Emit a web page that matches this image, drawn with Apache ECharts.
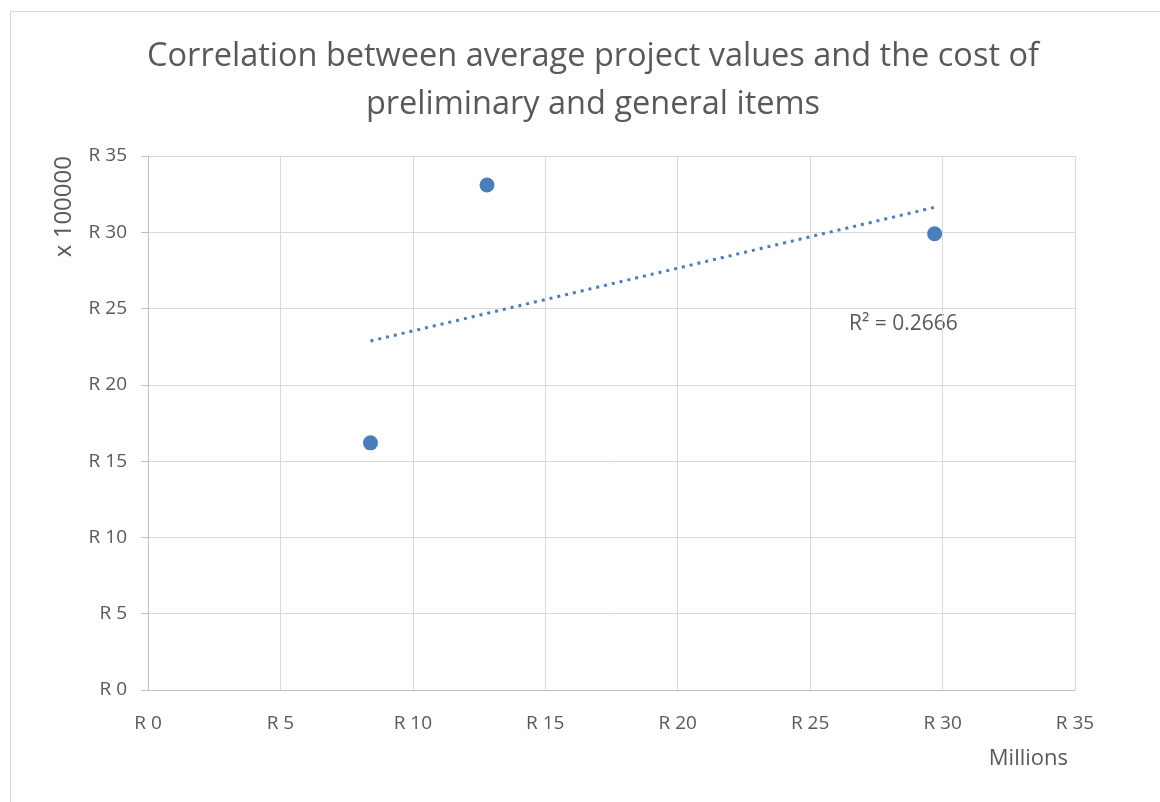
<!DOCTYPE html>
<html>
<head>
<meta charset="utf-8">
<script src="https://cdn.jsdelivr.net/npm/echarts@6/dist/echarts.min.js"></script>
<style>
  html, body { margin: 0; padding: 0; background: #fff; }
  #frame { position: absolute; left: 10px; top: 11px; width: 1160px; height: 800px; border: 1px solid #d9d9d9; }
  #chart { width: 1160px; height: 802px; position: absolute; left: 0; top: 0; }
</style>
</head>
<body>
<div id="frame"></div>
<div id="chart"></div>
<script>
// project value (millions) vs P&G cost (x 100000)
const projectValues = [8.4, 12.8, 29.7];
const pgCosts = [16.2, 33.1, 29.9];
const r2Text = 'R² = 0.2666';

// least squares trendline from the data
function trend(xs, ys) {
  let n = xs.length, mx = 0, my = 0;
  xs.forEach((x, i) => { mx += x; my += ys[i]; });
  mx /= n; my /= n;
  let sxy = 0, sxx = 0;
  xs.forEach((x, i) => { sxy += (x - mx) * (ys[i] - my); sxx += (x - mx) * (x - mx); });
  const slope = sxy / sxx;
  const b = my - slope * mx;
  const x0 = Math.min(...xs), x1 = Math.max(...xs);
  return [[x0, slope * x0 + b], [x1, slope * x1 + b]];
}

const myChart = echarts.init(document.getElementById('chart'));
const font = '"Open Sans", sans-serif';
const txt = '#595959';

let option = {
  animation: false,
  title: {
    text: 'Correlation between average project values and the cost of\npreliminary and general items',
    left: 588,
    textAlign: 'center',
    top: 28,
    textStyle: { fontFamily: font, fontSize: 32.5, fontWeight: 'normal', color: txt, lineHeight: 48 }
  },
  grid: { left: 148, right: 85, top: 156, bottom: 112 },
  xAxis: {
    type: 'value', min: 0, max: 35, interval: 5,
    name: 'Millions', nameLocation: 'end',
    nameGap: 0,
    nameTextStyle: { fontFamily: font, fontSize: 22, color: txt, align: 'right', verticalAlign: 'top', padding: [58, 7, 0, 0] },
    axisLine: { show: true, lineStyle: { color: '#bfbfbf', width: 1 } },
    axisTick: { show: false },
    splitLine: { show: true, lineStyle: { color: '#d9d9d9', width: 1 } },
    axisLabel: { formatter: v => 'R ' + v, fontFamily: font, fontSize: 19, color: txt, margin: 24 }
  },
  yAxis: {
    type: 'value', min: 0, max: 35, interval: 5,
    name: 'x 100000', nameLocation: 'end', nameRotate: 90,
    nameGap: 0,
    nameTextStyle: { fontFamily: font, fontSize: 24, color: txt, align: 'right', verticalAlign: 'bottom', padding: [0, 0, 72, 0] },
    axisLine: { show: true, lineStyle: { color: '#bfbfbf', width: 1 } },
    axisTick: { show: true, length: 7, lineStyle: { color: '#bfbfbf' } },
    splitLine: { show: true, lineStyle: { color: '#d9d9d9', width: 1 } },
    axisLabel: { formatter: v => 'R ' + v, fontFamily: font, fontSize: 19, color: txt, margin: 21 }
  },
  graphic: [
    { type: 'text', left: 849, top: 314, style: { text: r2Text, font: '21px ' + font, fill: txt } }
  ],
  series: [
    {
      type: 'line',
      data: trend(projectValues, pgCosts),
      symbol: 'none',
      lineStyle: { color: '#4a7ebb', width: 3, type: [3, 5] },
      z: 2
    },
    {
      type: 'scatter',
      data: projectValues.map((x, i) => [x, pgCosts[i]]),
      symbol: 'circle',
      symbolSize: 15,
      itemStyle: { color: '#4a7ebb', opacity: 1 },
      z: 3
    }
  ]
};

myChart.setOption(option);
</script>
</body>
</html>
